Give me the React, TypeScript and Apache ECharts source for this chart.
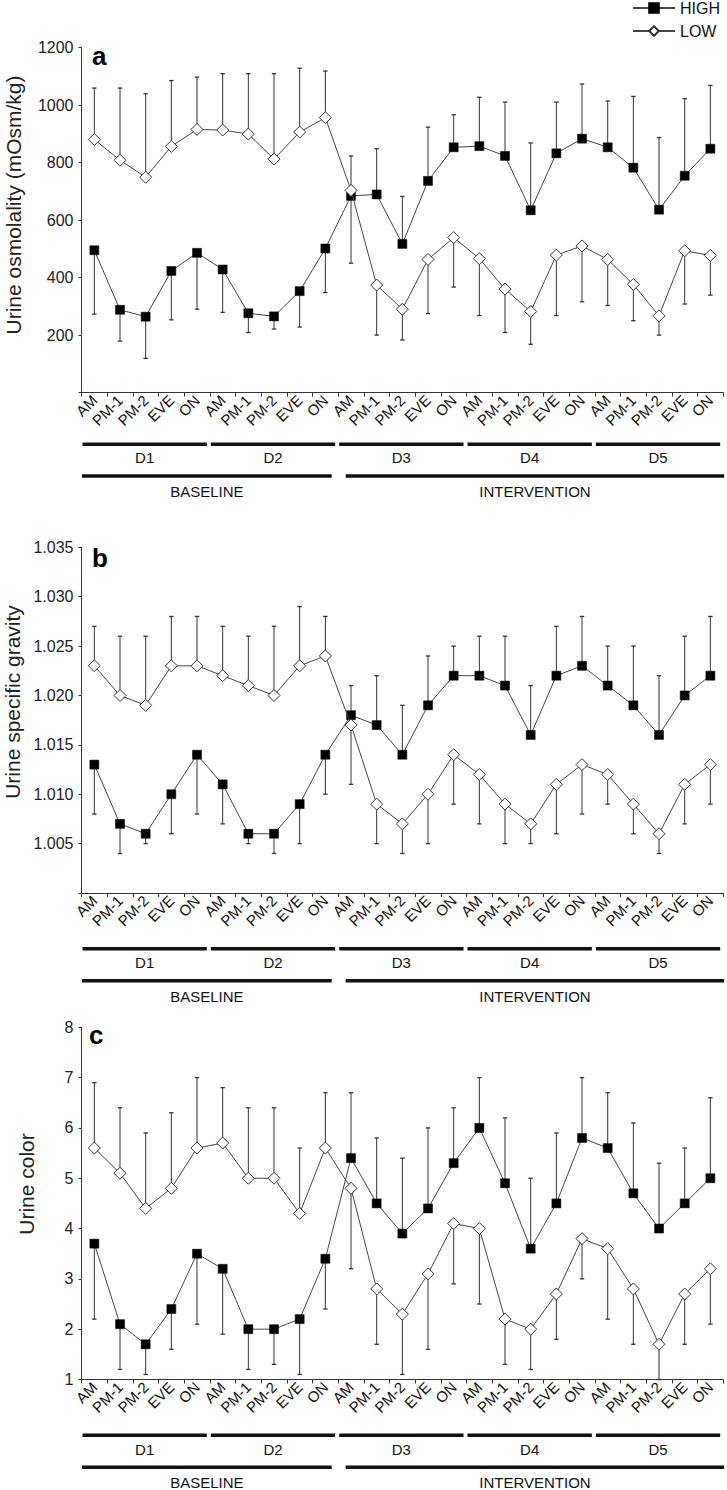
import React, { useEffect, useRef } from "react";
import * as echarts from "echarts";

const FONT = '"Liberation Sans", Arial, sans-serif';

const SLOTS = ["AM", "PM-1", "PM-2", "EVE", "ON"];
const DAYS = ["D1", "D2", "D3", "D4", "D5"];
const PHASES = ["BASELINE", "INTERVENTION"];
const PHASE_DAYS = [2, 3];
const CATEGORIES = DAYS.flatMap(() => SLOTS);
const SERIES_NAMES = ["HIGH", "LOW"];

// Panel a: urine osmolality (mean and end of SD bar)
const osmHigh = [495, 288, 264, 423, 486, 428, 276, 265, 353, 501, 684, 689, 517, 736, 853, 857, 823, 634, 832, 883, 853, 782, 636, 754, 848];
const osmHighBar = [273, 179, 119, 253, 290, 279, 209, 221, 228, 348, 823, 848, 682, 923, 966, 1027, 1010, 868, 1010, 1073, 1014, 1030, 887, 1022, 1068];
const osmLow = [880, 808, 749, 856, 915, 913, 899, 812, 906, 956, 703, 374, 290, 463, 539, 466, 360, 282, 478, 510, 463, 376, 267, 493, 477];
const osmLowBar = [1059, 1059, 1039, 1085, 1097, 1109, 1109, 1109, 1128, 1118, 450, 200, 183, 275, 367, 268, 209, 168, 268, 316, 303, 250, 200, 308, 339];

// Panel b: urine specific gravity
const usgHigh = [1.013, 1.007, 1.006, 1.010, 1.014, 1.011, 1.006, 1.006, 1.009, 1.014, 1.018, 1.017, 1.014, 1.019, 1.022, 1.022, 1.021, 1.016, 1.022, 1.023, 1.021, 1.019, 1.016, 1.020, 1.022];
const usgHighBar = [1.008, 1.004, 1.005, 1.006, 1.008, 1.007, 1.005, 1.004, 1.005, 1.010, 1.021, 1.022, 1.019, 1.024, 1.025, 1.026, 1.026, 1.021, 1.027, 1.028, 1.025, 1.025, 1.022, 1.026, 1.028];
const usgLow = [1.023, 1.020, 1.019, 1.023, 1.023, 1.022, 1.021, 1.020, 1.023, 1.024, 1.017, 1.009, 1.007, 1.010, 1.014, 1.012, 1.009, 1.007, 1.011, 1.013, 1.012, 1.009, 1.006, 1.011, 1.013];
const usgLowBar = [1.027, 1.026, 1.026, 1.028, 1.028, 1.027, 1.026, 1.027, 1.029, 1.028, 1.011, 1.005, 1.004, 1.005, 1.009, 1.007, 1.005, 1.005, 1.006, 1.008, 1.009, 1.006, 1.004, 1.007, 1.009];

// Panel c: urine color
const colHigh = [3.7, 2.1, 1.7, 2.4, 3.5, 3.2, 2.0, 2.0, 2.2, 3.4, 5.4, 4.5, 3.9, 4.4, 5.3, 6.0, 4.9, 3.6, 4.5, 5.8, 5.6, 4.7, 4.0, 4.5, 5.0];
const colHighBar = [2.2, 1.2, 1.1, 1.6, 2.1, 1.9, 1.2, 1.3, 1.1, 2.4, 6.7, 5.8, 5.4, 6.0, 6.4, 7.0, 6.2, 5.0, 5.9, 7.0, 6.7, 6.1, 5.3, 5.6, 6.6];
const colLow = [5.6, 5.1, 4.4, 4.8, 5.6, 5.7, 5.0, 5.0, 4.3, 5.6, 4.8, 2.8, 2.3, 3.1, 4.1, 4.0, 2.2, 2.0, 2.7, 3.8, 3.6, 2.8, 1.7, 2.7, 3.2];
const colLowBar = [6.9, 6.4, 5.9, 6.3, 7.0, 6.8, 6.4, 6.4, 5.6, 6.7, 3.2, 1.7, 1.1, 1.6, 2.9, 2.5, 1.3, 1.2, 1.8, 3.0, 2.2, 1.7, 1.0, 1.7, 2.1];

const PANEL_LETTERS = ["a", "b", "c"];
const Y_TITLES = ["Urine osmolality (mOsm/kg)", "Urine specific gravity", "Urine color"];
const Y_MIN = [0, 1.0, 1];
const Y_MAX = [1200, 1.035, 8];
const Y_INTERVAL = [200, 0.005, 1];

const PANEL_DATA = [
  [osmHigh, osmHighBar, osmLow, osmLowBar],
  [usgHigh, usgHighBar, usgLow, usgLowBar],
  [colHigh, colHighBar, colLow, colLowBar],
];

// layout constants
const GRID_TOP = [47.5, 547.3, 1027.3];
const GRID_HEIGHT = [345.1, 345.7, 352.2];
const GRID_LEFT = 81.5;
const GRID_RIGHT = 3.8;
const TITLE_POS = [
  [13, 205],
  [12, 702],
  [26, 1184],
];
const LETTER_POS = [
  [92, 56],
  [92, 557.5],
  [89, 1035],
];
const GROUP_OFFSETS = [
  [51.7, 65.3, 83.3, 99.3],
  [55.8, 69.5, 87.7, 103.5],
  [55.8, 69.8, 87.8, 103.2],
];

function fmtLabel(p: number, v: number): string {
  if (p === 0) return v === 0 ? "" : String(v);
  if (p === 1) return v < 1.0001 ? "" : v.toFixed(3);
  return String(v);
}

function errorRenderer(params: any, api: any) {
  const x = api.value(0);
  const p1 = api.coord([x, api.value(1)]);
  const p2 = api.coord([x, api.value(2)]);
  return {
    type: "group",
    children: [
      {
        type: "line",
        shape: { x1: p1[0], y1: p1[1], x2: p2[0], y2: p2[1] },
        style: { stroke: "#333", lineWidth: 1 },
      },
      {
        type: "line",
        shape: { x1: p2[0] - 2.2, y1: p2[1], x2: p2[0] + 2.2, y2: p2[1] },
        style: { stroke: "#333", lineWidth: 1.3 },
      },
    ],
  };
}

export default function App() {
  const ref = useRef<HTMLDivElement>(null);

  useEffect(() => {
    document.body.style.margin = "0";
    if (!ref.current) return;
    const chart = echarts.init(ref.current, null, { renderer: "svg" });

    const grids: any[] = [];
    const xAxes: any[] = [];
    const yAxes: any[] = [];
    const series: any[] = [];

    for (let p = 0; p < 3; p++) {
      grids.push({
        left: GRID_LEFT,
        right: GRID_RIGHT,
        top: GRID_TOP[p],
        height: GRID_HEIGHT[p],
        containLabel: false,
        outerBoundsMode: "none",
      });
      xAxes.push({
        type: "category",
        gridIndex: p,
        data: CATEGORIES,
        boundaryGap: true,
        axisLine: { show: true, lineStyle: { color: "#333", width: 1 } },
        axisTick: { show: true, length: 4, interval: 0, alignWithLabel: false, lineStyle: { color: "#333" } },
        axisLabel: {
          interval: 0,
          rotate: 45,
          fontSize: 15,
          margin: 5,
          color: "#111",
          fontFamily: FONT,
          hideOverlap: false,
        },
        splitLine: { show: false },
      });
      yAxes.push({
        type: "value",
        gridIndex: p,
        min: Y_MIN[p],
        max: Y_MAX[p],
        interval: Y_INTERVAL[p],
        axisLine: { show: true, lineStyle: { color: "#333", width: 1 } },
        axisTick: { show: true, length: 3, lineStyle: { color: "#333" } },
        axisLabel: {
          fontSize: 16,
          margin: 8,
          color: "#222",
          fontFamily: FONT,
          formatter: (v: number) => fmtLabel(p, v),
          showMinLabel: true,
          showMaxLabel: true,
        },
        splitLine: { show: false },
      });

      const [hi, hiBar, lo, loBar] = PANEL_DATA[p];
      series.push({
        type: "custom",
        name: "HIGH SD",
        xAxisIndex: p,
        yAxisIndex: p,
        renderItem: errorRenderer,
        encode: { x: 0, y: [1, 2] },
        data: hi.map((v, i) => [i, v, hiBar[i]]),
        z: 1,
        silent: true,
      });
      series.push({
        type: "custom",
        name: "LOW SD",
        xAxisIndex: p,
        yAxisIndex: p,
        renderItem: errorRenderer,
        encode: { x: 0, y: [1, 2] },
        data: lo.map((v, i) => [i, v, loBar[i]]),
        z: 1,
        silent: true,
      });
      series.push({
        type: "line",
        name: SERIES_NAMES[0],
        xAxisIndex: p,
        yAxisIndex: p,
        data: hi,
        symbol: "rect",
        symbolSize: 9,
        itemStyle: { color: "#000", borderColor: "#000", borderWidth: 0.5 },
        lineStyle: { color: "#444", width: 1 },
        z: 3,
      });
      series.push({
        type: "line",
        name: SERIES_NAMES[1],
        xAxisIndex: p,
        yAxisIndex: p,
        data: lo,
        symbol: "diamond",
        symbolSize: 12,
        itemStyle: { color: "#fff", borderColor: "#333", borderWidth: 1 },
        lineStyle: { color: "#444", width: 1 },
        z: 4,
      });
    }

    chart.setOption({
      animation: false,
      backgroundColor: "#fff",
      textStyle: { fontFamily: FONT },
      legend: {
        data: SERIES_NAMES,
        orient: "vertical",
        right: 7,
        top: 0,
        padding: 0,
        itemWidth: 42,
        itemHeight: 12,
        itemGap: 7,
        textStyle: { fontSize: 16, color: "#111", fontFamily: FONT },
        selectedMode: false,
      },
      grid: grids,
      xAxis: xAxes,
      yAxis: yAxes,
      series,
    });

    // annotations positioned via the axes' own scales
    const elements: any[] = [];
    for (let p = 0; p < 3; p++) {
      const px = (i: number) => chart.convertToPixel({ xAxisIndex: p } as any, i) as unknown as number;
      const bw = px(1) - px(0);
      const bandStart = (i: number) => px(i) - bw / 2;
      const axisY = chart.convertToPixel({ yAxisIndex: p } as any, Y_MIN[p]) as unknown as number;
      const off = GROUP_OFFSETS[p];

      DAYS.forEach((d, k) => {
        const x0 = bandStart(k * SLOTS.length) + 1;
        const x1 = bandStart((k + 1) * SLOTS.length) - 3;
        elements.push({
          type: "rect",
          shape: { x: x0, y: axisY + off[0] - 1.75, width: x1 - x0, height: 3.5 },
          style: { fill: "#111" },
        });
        elements.push({
          type: "text",
          x: (x0 + x1) / 2,
          y: axisY + off[1],
          style: { text: d, font: `15px ${FONT}`, fill: "#111", align: "center", verticalAlign: "middle" },
        });
      });

      let dayIdx = 0;
      PHASES.forEach((ph, k) => {
        const first = dayIdx * SLOTS.length;
        dayIdx += PHASE_DAYS[k];
        const last = dayIdx * SLOTS.length;
        const x0 = bandStart(first) + (k === 0 ? 0.5 : 7.5);
        const x1 = bandStart(last) + (k === PHASES.length - 1 ? 1 : -6.5);
        elements.push({
          type: "rect",
          shape: { x: x0, y: axisY + off[2] - 1.75, width: x1 - x0, height: 3.5 },
          style: { fill: "#111" },
        });
        elements.push({
          type: "text",
          x: (x0 + x1) / 2,
          y: axisY + off[3],
          style: { text: ph, font: `15px ${FONT}`, fill: "#111", align: "center", verticalAlign: "middle" },
        });
      });

      elements.push({
        type: "text",
        x: TITLE_POS[p][0],
        y: TITLE_POS[p][1],
        rotation: Math.PI / 2,
        style: {
          text: Y_TITLES[p],
          font: `21px ${FONT}`,
          fill: "#222",
          align: "center",
          verticalAlign: "middle",
        },
      });
      elements.push({
        type: "text",
        x: LETTER_POS[p][0],
        y: LETTER_POS[p][1],
        style: {
          text: PANEL_LETTERS[p],
          font: `bold 26px ${FONT}`,
          fill: "#000",
          align: "left",
          verticalAlign: "middle",
        },
      });
    }

    chart.setOption({ graphic: { elements } });

    return () => {
      chart.dispose();
    };
  }, []);

  return (
    <div
      ref={ref}
      style={{ position: "absolute", left: 0, top: 0, width: 727, height: 1490, background: "#fff" }}
    />
  );
}
